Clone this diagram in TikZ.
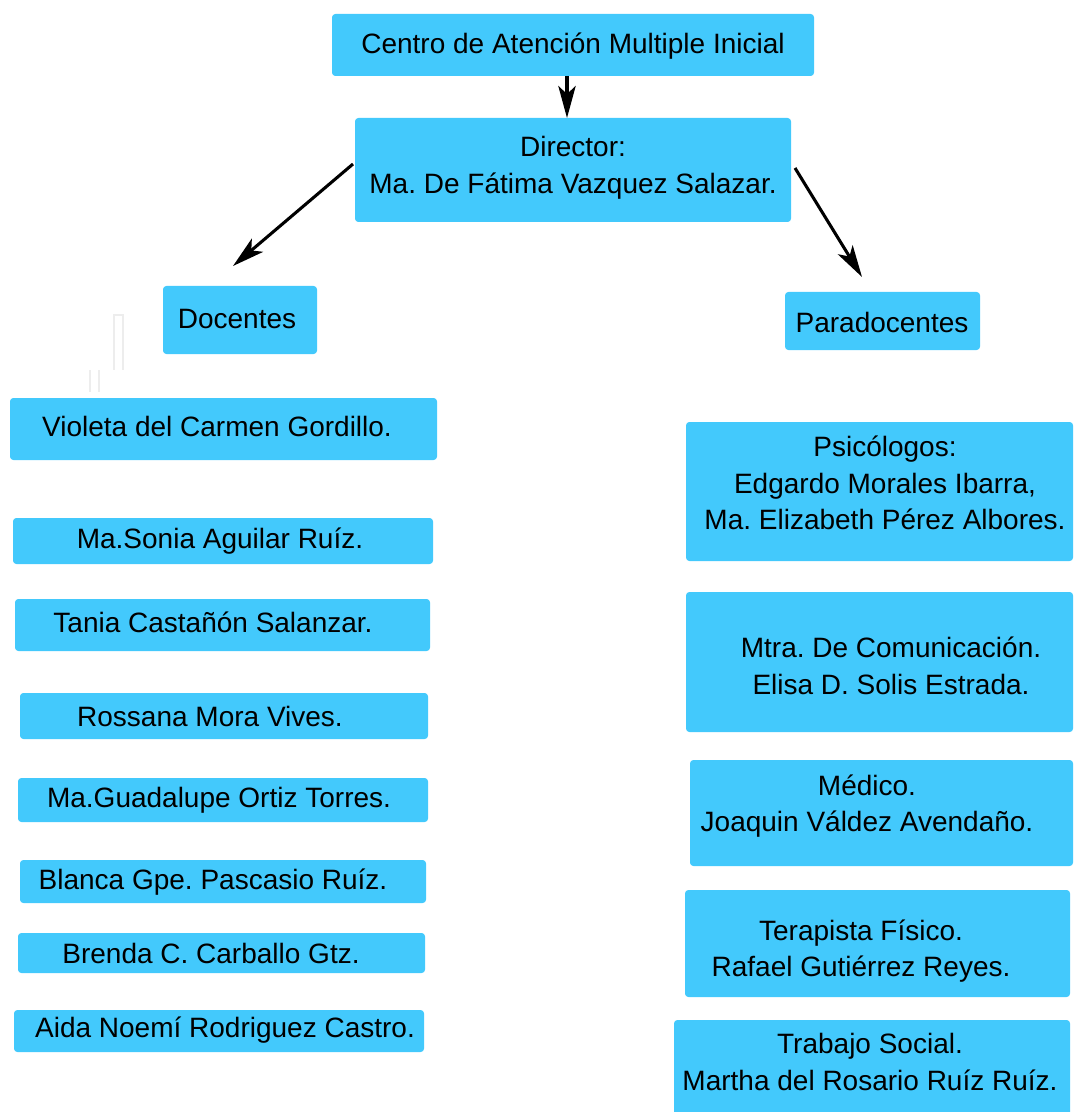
\documentclass[tikz,border=0pt]{standalone}
\usepackage{fontspec}
\setmainfont{Liberation Sans}
\usetikzlibrary{arrows.meta}
\definecolor{boxblue}{RGB}{67,201,252}
\frenchspacing
\begin{document}
\begin{tikzpicture}[x=0.75pt,y=-0.75pt,
  panel/.style={fill=boxblue, rounded corners=2.5pt, inner sep=0pt, outer sep=0pt},
  caption/.style={align=center, inner sep=0pt, font=\fontsize{21pt}{27.4pt}\selectfont},
  link/.style={line width=2.3pt, -{Stealth[length=24pt,width=13pt,inset=6pt]}},
  ghost/.style={draw=black!7, line width=0.8pt}]
% box: name, x1, y1, x2, y2, text centre, text
\newcommand\orgpanel[7]{%
  \node[panel, minimum width={(#4-#2)*0.75pt}, minimum height={(#5-#3)*0.75pt}]
    (#1) at ({(#2+#4)/2},{(#3+#5)/2}) {};
  \node[caption] (#1-t) at #6 {#7};}

\useasboundingbox (0,0) rectangle (1073,1112);

% top of the chart
\orgpanel{cent}{332}{14}{814}{76}{(573,46)}{Centro de Atención Multiple Inicial}
\orgpanel{dir}{355}{118}{791}{222}{(573,168)}{Director:\\Ma. De Fátima Vazquez Salazar.}
\orgpanel{doc}{163}{286}{317}{354}{(237,319)}{Docentes}
\orgpanel{para}{785}{292}{980}{350}{(882,322)}{Paradocentes}

% teaching staff
\orgpanel{d1}{10}{398}{437}{460}{(217,426)}{Violeta del Carmen Gordillo.}
\orgpanel{d2}{13}{518}{433}{564}{(220,541)}{Ma.Sonia Aguilar Ruíz.}
\orgpanel{d3}{15}{599}{430}{651}{(213,622)}{Tania Castañón Salanzar.}
\orgpanel{d4}{20}{693}{428}{739}{(210,716)}{Rossana Mora Vives.}
\orgpanel{d5}{18}{778}{428}{822}{(219,800)}{Ma.Guadalupe Ortiz Torres.}
\orgpanel{d6}{20}{860}{426}{903}{(213,882)}{Blanca Gpe. Pascasio Ruíz.}
\orgpanel{d7}{18}{933}{425}{973}{(211,953)}{Brenda C. Carballo Gtz.}
\orgpanel{d8}{14}{1010}{424}{1052}{(225,1030)}{Aida Noemí Rodriguez Castro.}

% support staff
\orgpanel{p1}{686}{422}{1073}{561}{(885,483)}{Psicólogos:\\Edgardo Morales Ibarra,\\Ma. Elizabeth Pérez Albores.}
\orgpanel{p2}{686}{592}{1073}{732}{(891,666)}{Mtra. De Comunicación.\\Elisa D. Solis Estrada.}
\orgpanel{p3}{690}{760}{1073}{866}{(867,806)}{Médico.\\Joaquin Váldez Avendaño.}
\orgpanel{p4}{685}{890}{1070}{997}{(861,951)}{Terapista Físico.\\Rafael Gutiérrez Reyes.}
\orgpanel{p5}{674}{1020}{1070}{1118}{(870,1062)}{Trabajo Social.\\Martha del Rosario Ruíz Ruíz.}

% connectors
\coordinate (docTip) at (233,266);
\coordinate (paraTip) at (862,277);
\draw[link] ([shift={(-6,0)}]cent.south) -- ([shift={(-6,0)}]dir.north);
\draw[link] ([shift={(-2,-6)}]dir.west) -- (docTip);
\draw[link] ([shift={(4,-2)}]dir.east) -- (paraTip);

% faint stray strokes beside Docentes
\draw[ghost] (114,370) -- (114,315) -- (123,315) -- (123,370);
\draw[ghost] (90,370) -- (90,392);
\draw[ghost] (99,370) -- (99,392);
\end{tikzpicture}
\end{document}
